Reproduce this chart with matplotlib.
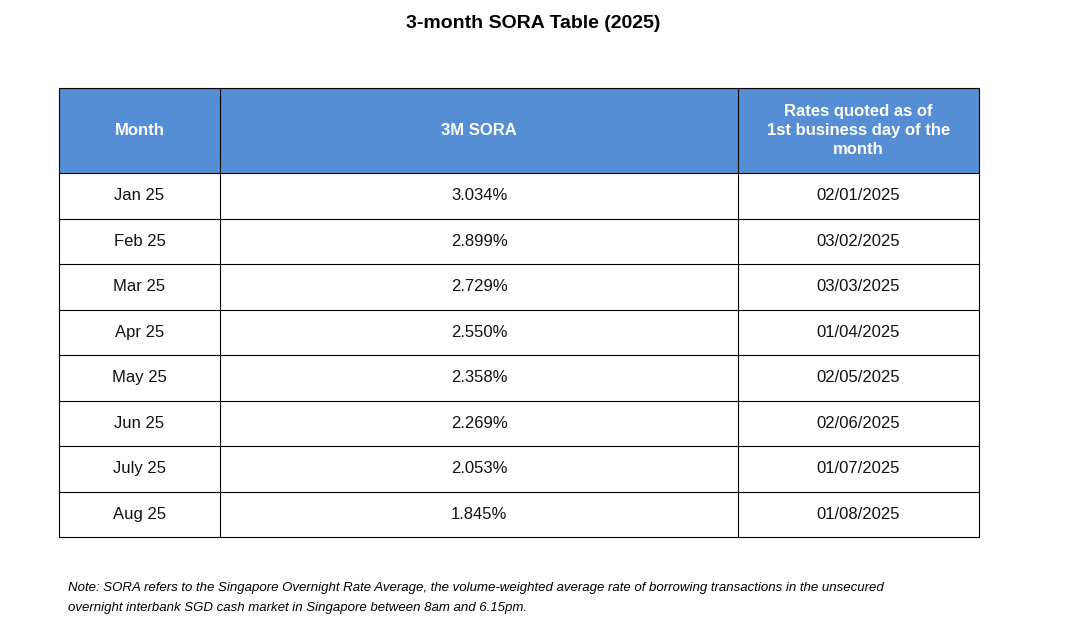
import matplotlib
matplotlib.use("Agg")
import matplotlib.pyplot as plt
from matplotlib.patches import Rectangle

plt.rcParams['font.family'] = ['Liberation Sans', 'DejaVu Sans']

title = "3-month SORA Table (2025)"
headers = ["Month", "3M SORA", "Rates quoted as of\n1st business day of the\nmonth"]
months = ["Jan 25", "Feb 25", "Mar 25", "Apr 25", "May 25", "Jun 25", "July 25", "Aug 25"]
sora = [3.034, 2.899, 2.729, 2.550, 2.358, 2.269, 2.053, 1.845]
dates = ["02/01/2025", "03/02/2025", "03/03/2025", "01/04/2025",
         "02/05/2025", "02/06/2025", "01/07/2025", "01/08/2025"]
note = ("Note: SORA refers to the Singapore Overnight Rate Average, the volume-weighted average rate of borrowing transactions in the unsecured\n"
        "overnight interbank SGD cash market in Singapore between 8am and 6.15pm.")

fig = plt.figure(figsize=(10.66, 6.4), dpi=100)
ax = fig.add_axes([0, 0, 1, 1])
ax.set_xlim(0, 1066)
ax.set_ylim(640, 0)
ax.axis('off')

xs = [59, 220, 738, 979]
head_top, head_bot = 88, 173
row_h = (537 - 173) / len(months)

ax.text(533, 24, title, ha='center', va='center', fontsize=14, fontweight='bold')

ax.add_patch(Rectangle((xs[0], head_top), xs[-1] - xs[0], head_bot - head_top,
                       facecolor='#558ED5', edgecolor='none'))
for i, h in enumerate(headers):
    ax.text((xs[i] + xs[i + 1]) / 2, (head_top + head_bot) / 2, h, ha='center', va='center',
            fontsize=12, fontweight='bold', color='white', linespacing=1.35)

for r, (m, s, d) in enumerate(zip(months, sora, dates)):
    yc = head_bot + (r + 0.5) * row_h
    for i, t in enumerate([m, f"{s:.3f}%", d]):
        ax.text((xs[i] + xs[i + 1]) / 2, yc, t, ha='center', va='center', fontsize=12, color='#111111')

bottom = head_bot + len(months) * row_h
for x in xs:
    ax.plot([x, x], [head_top, bottom], color='black', lw=0.8)
ax.plot([xs[0], xs[-1]], [head_top, head_top], color='black', lw=0.8)
for r in range(len(months) + 1):
    y = head_bot + r * row_h
    ax.plot([xs[0], xs[-1]], [y, y], color='black', lw=0.8)

ax.text(68, 598, note, ha='left', va='center', fontsize=9.5, style='italic', linespacing=2.0)

fig.savefig("out.png", dpi=100)
